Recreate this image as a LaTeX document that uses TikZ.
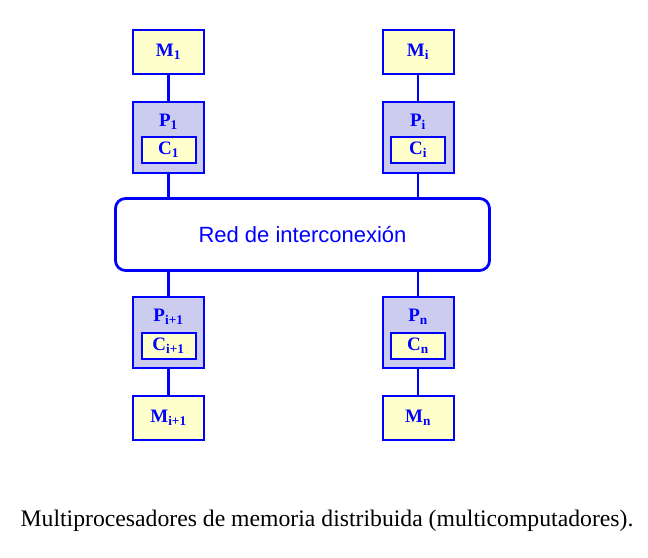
\documentclass[tikz,border=0pt]{standalone}
\usepackage{fontspec}
\setmainfont{Liberation Serif}
\newfontfamily\netfont{Liberation Sans}
\usepackage{tikz}
\definecolor{lineblue}{RGB}{0,0,255}
\definecolor{memyellow}{RGB}{255,255,204}
\definecolor{proclilac}{RGB}{204,204,238}
\newcommand{\lbl}[2]{\textbf{#1\textsubscript{#2}}}

\begin{document}
\begin{tikzpicture}[x=1pt,y=-1pt,
        memory/.style={draw=lineblue,line width=2pt,fill=memyellow,minimum width=71pt,minimum height=44pt,inner sep=0pt},
        proc/.style={draw=lineblue,line width=2pt,fill=proclilac,minimum width=71pt,minimum height=71pt,inner sep=0pt},
        cache/.style={draw=lineblue,line width=2pt,fill=memyellow,minimum width=54pt,minimum height=26pt,inner sep=0pt},
        tag/.style={text=lineblue,font=\fontsize{19}{19}\selectfont,inner sep=0pt},
        link/.style={draw=lineblue,line width=2.8pt}]
        \useasboundingbox (0,0) rectangle (648,557);
        % memorias de arriba
        \node[memory] (mem1) at (168.5,52) {};
        \node[tag] at (mem1) {\lbl{M}{1}};
        \node[memory] (memi) at (418,52) {};
        \node[tag] at (memi) {\lbl{M}{i}};
        % procesadores de arriba
        \node[proc] (proc1) at (168.5,137) {};
        \node[tag] at (168.5,122) {\lbl{P}{1}};
        \node[cache] (cache1) at (168.5,150) {};
        \node[tag] at (cache1) {\lbl{C}{1}};
        \node[proc] (proci) at (418,137) {};
        \node[tag] at (418,122) {\lbl{P}{i}};
        \node[cache] (cachei) at (418,150) {};
        \node[tag] at (cachei) {\lbl{C}{i}};
        % red
        \node[draw=lineblue,line width=2.8pt,rounded corners=10pt,fill=white,minimum width=374pt,minimum height=72pt,text=lineblue,font=\netfont\fontsize{22}{22}\selectfont] (net) at (302.5,234.5) {Red de interconexión};
        % procesadores de abajo
        \node[proc] (procj) at (168.5,332.5) {};
        \node[tag] at (168.5,317) {\lbl{P}{i+1}};
        \node[cache] (cachej) at (168.5,345.5) {};
        \node[tag] at (cachej) {\lbl{C}{i+1}};
        \node[proc] (procn) at (418,332.5) {};
        \node[tag] at (418,317) {\lbl{P}{n}};
        \node[cache] (cachen) at (418,345.5) {};
        \node[tag] at (cachen) {\lbl{C}{n}};
        % memorias de abajo
        \node[memory] (memj) at (168.5,417.5) {};
        \node[tag] at (memj) {\lbl{M}{i+1}};
        \node[memory] (memn) at (418,417.5) {};
        \node[tag] at (memn) {\lbl{M}{n}};
        % enlaces
        \draw[link] (mem1) -- (proc1);
        \draw[link] (memi) -- (proci);
        \draw[link] (proc1.south) -- (proc1.south |- net.north);
        \draw[link] (proci.south) -- (proci.south |- net.north);
        \draw[link] (procj.north |- net.south) -- (procj.north);
        \draw[link] (procn.north |- net.south) -- (procn.north);
        \draw[link] (procj) -- (memj);
        \draw[link] (procn) -- (memn);
        \node (caption) at (327,521) {\fontsize{23.7}{23.7}\selectfont Multiprocesadores de memoria distribuida (multicomputadores).};
    \end{tikzpicture}
\end{document}
